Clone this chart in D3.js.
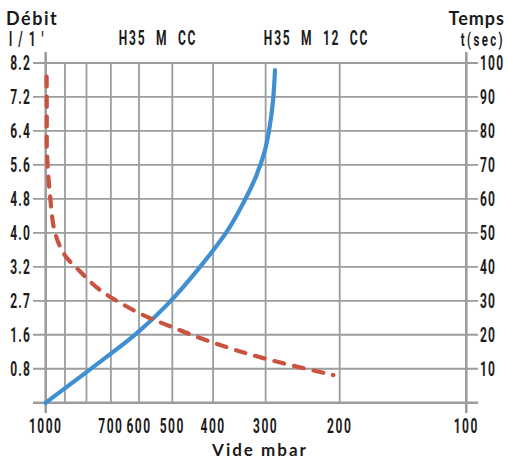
<!DOCTYPE html>
<html>
<head>
<meta charset="utf-8">
<script src="https://cdn.jsdelivr.net/npm/d3@7"></script>
<style>
html,body{margin:0;padding:0;background:#fff;}
svg{display:block;}
.cond{font-family:Roboto,"Liberation Sans",sans-serif;font-weight:700;fill:#1b1b1b;white-space:pre;}
.geo{font-family:Lato,"Open Sans",sans-serif;font-weight:700;fill:#1b1b1b;}
</style>
</head>
<body>
<svg id="chart" width="508" height="463"></svg>
<script>
// ---- data ----
const vacuumGrid = [1000, 900, 800, 700, 600, 500, 400, 300, 200, 100];
const vacuumLabels = [1000, 700, 600, 500, 400, 300, 200, 100];
const timeTicks = [10, 20, 30, 40, 50, 60, 70, 80, 90, 100];
const debitTicks = [0, 0.8, 1.6, 2.7, 3.2, 4.0, 4.8, 5.6, 6.4, 7.2, 8.2];
const debitLabels = ["0.8", "1.6", "2.7", "3.2", "4.0", "4.8", "5.6", "6.4", "7.2", "8.2"];
// H35 M 12 CC : time (s) vs vacuum (mbar)
const timeVacuum = [1000, 743, 603, 512, 430, 369, 338, 316, 301, 293, 288, 285];
const timeSec    = [0, 12.0, 20.8, 29.1, 39.9, 50.8, 59.1, 66.7, 74.4, 81.7, 89.1, 97.9];
// H35 M CC : flow (l/1') vs vacuum (mbar)
const flowVacuum = [995, 994, 993, 977, 950, 900, 837, 743, 597, 516, 407, 304, 207];
const flowDebit  = [7.8, 6.9, 5.9, 4.9, 4.0, 3.47, 3.16, 2.86, 2.29, 1.92, 1.44, 1.05, 0.65];

// ---- scales ----
const x = d3.scaleLog().domain([1000, 100]).range([45.7, 466.3]);
const yT = d3.scaleLinear().domain([0, 100]).range([402.7, 63]);
const yD = d3.scaleLinear().domain(debitTicks).range(debitTicks.map((d, i) => yT(i * 10)));

const svg = d3.select("#chart");
const gridColor = "#9d9d9d";

// vertical grid
svg.append("g").selectAll("line").data(vacuumGrid.filter(v => v !== 1000 && v !== 100)).join("line")
  .attr("x1", d => x(d)).attr("x2", d => x(d))
  .attr("y1", yT(100)).attr("y2", yT(0))
  .attr("stroke", gridColor).attr("stroke-width", 1.8);
// horizontal grid
svg.append("g").selectAll("line").data(timeTicks).join("line")
  .attr("x1", 33).attr("x2", 478)
  .attr("y1", d => yT(d)).attr("y2", d => yT(d))
  .attr("stroke", gridColor).attr("stroke-width", 1.8);
// axes
svg.append("line").attr("x1", 33).attr("x2", 478).attr("y1", yT(0)).attr("y2", yT(0))
  .attr("stroke", gridColor).attr("stroke-width", 2.6);
[1000, 100].forEach(v => {
  svg.append("line").attr("x1", x(v)).attr("x2", x(v)).attr("y1", 52).attr("y2", 413)
    .attr("stroke", gridColor).attr("stroke-width", 2.6);
});

// curves
const blue = d3.line().curve(d3.curveCatmullRom.alpha(0.5))
  .x((d, i) => x(timeVacuum[i])).y((d, i) => yT(timeSec[i]));
svg.append("path").attr("d", blue(timeSec)).attr("fill", "none")
  .attr("stroke", "#3f8fd2").attr("stroke-width", 4.2).attr("stroke-linecap", "round");
const red = d3.line().curve(d3.curveCatmullRom.alpha(0.5))
  .x((d, i) => x(flowVacuum[i])).y((d, i) => yD(flowDebit[i]));
svg.append("path").attr("d", red(flowDebit)).attr("fill", "none")
  .attr("stroke", "#c9533f").attr("stroke-width", 4.2).attr("stroke-linecap", "round")
  .attr("stroke-dasharray", "10,10");

// condensed text helper
const SX = 0.6;
function cond(txt, px, py, anchor, size, ls) {
  svg.append("text").attr("class", "cond")
    .attr("transform", `translate(${px},${py}) scale(${SX},1)`)
    .attr("text-anchor", anchor)
    .style("font-size", size + "px")
    .style("letter-spacing", ls + "px")
    .text(txt);
}
// left labels
debitLabels.forEach((t, i) => cond(t, 31, yD(debitTicks[i + 1]) + 7, "end", 20, 2));
// right labels
timeTicks.forEach(t => cond(String(t), 480, yT(t) + 7, "start", 20, 2));
// bottom labels
vacuumLabels.forEach(v => cond(String(v), x(v), 433, "middle", 20, 2.5));
// headers
cond("l/1'", 9, 46, "start", 20, 10);
cond("H35  M  CC", 158, 45, "middle", 20, 3);
cond("H35  M  12  CC", 316.5, 45, "middle", 20, 3);
cond("t(sec)", 505, 46, "end", 19, 4);

svg.append("text").attr("class", "geo").attr("x", 6).attr("y", 25)
  .style("font-size", "18px").style("letter-spacing", "1.5px").text("Débit");
svg.append("text").attr("class", "geo").attr("x", 505).attr("y", 25).attr("text-anchor", "end")
  .style("font-size", "18px").style("letter-spacing", "1px").text("Temps");
svg.append("text").attr("class", "geo").attr("x", 260).attr("y", 456).attr("text-anchor", "middle")
  .style("font-size", "17px").style("letter-spacing", "2px").text("Vide mbar");
</script>
</body>
</html>
